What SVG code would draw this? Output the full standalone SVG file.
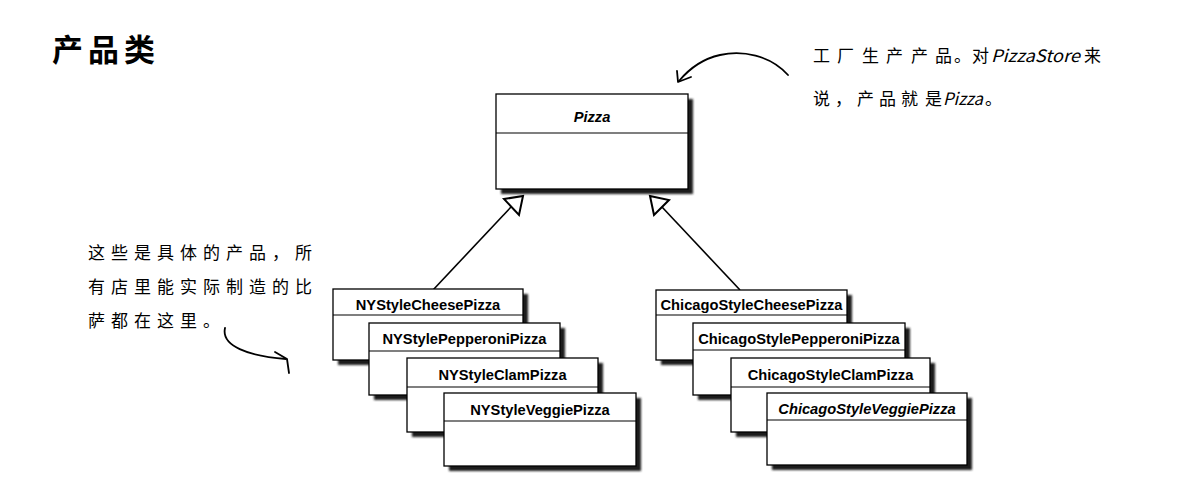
<svg xmlns="http://www.w3.org/2000/svg" width="1185" height="481" viewBox="0 0 1185 481">
<style>
.bg{fill:#fff}
.box{fill:#fff;stroke:#000;stroke-width:1.3}
.div{stroke:#000;stroke-width:1.2}
.shadow{fill:#1c1c1c;filter:url(#soft)}
.name{font-family:"Liberation Sans",Arial,sans-serif;font-weight:bold;font-size:14.7px;text-anchor:middle;fill:#000}
.ital{font-style:italic}
.hand{font-family:"Noto Sans CJK SC","Noto Sans",sans-serif;font-size:17px;fill:#000}
.title{font-family:"Noto Sans CJK SC",sans-serif;font-size:31px;font-weight:bold;fill:#000;letter-spacing:5px}
.conn{stroke:#000;stroke-width:1.6;fill:none}
.tri{fill:#fff;stroke:#000;stroke-width:2;stroke-linejoin:miter}
.curve{stroke:#000;stroke-width:1.8;fill:none;stroke-linecap:round;stroke-linejoin:round}
</style>
<defs>
<filter id="soft" x="-10%" y="-10%" width="120%" height="120%"><feGaussianBlur stdDeviation="1.1"/></filter>
</defs>
<rect class="bg" x="0" y="0" width="1185" height="481"/>

<text id="title" class="title" x="52" y="61">产品类</text>

<g id="note-top">
<text class="hand" y="62"><tspan x="813 837 862 886 911 935">工厂生产产品</tspan><tspan x="954">。</tspan><tspan x="972">对</tspan><tspan x="991" font-style="italic" textLength="89" lengthAdjust="spacingAndGlyphs">PizzaStore</tspan><tspan x="1084">来</tspan></text>
<text class="hand" y="105"><tspan x="813 835 857 879 901">说，产品就</tspan><tspan x="925">是</tspan><tspan x="943" font-style="italic" textLength="40" lengthAdjust="spacingAndGlyphs">Pizza</tspan><tspan x="985">。</tspan></text>
</g>

<g id="note-left">
<text class="hand" x="88" y="259" letter-spacing="6">这些是具体的产品，所</text>
<text class="hand" x="88" y="293" letter-spacing="6">有店里能实际制造的比</text>
<text class="hand" x="88" y="327" letter-spacing="6">萨都在这里。</text>
</g>

<g id="connectors">
<path class="curve" d="M788,75 C770,55 742,50 720,55 C702,59 689,69 679,81"/>
<path class="curve" d="M677,71 L678,82 L691,77"/>
<path class="curve" d="M225,328 C221,346 248,356 286,359"/>
<path class="curve" d="M275,352 L287,359 L289,373"/>
<line class="conn" x1="433" y1="290" x2="511" y2="207"/>
<line class="conn" x1="740" y1="290" x2="662" y2="207"/>
<polygon class="tri" points="523,196 519,215 504,199"/>
<polygon class="tri" points="650,196 669,200 654,215"/>
</g>

<g id="Pizza">
<rect class="shadow" x="501" y="99" width="192" height="95"/>
<rect class="box" x="496" y="94" width="192" height="95"/>
<line class="div" x1="496" y1="133" x2="688" y2="133"/>
<text class="name ital" x="592" y="121.5" font-size="15">Pizza</text>
</g>

<g id="NYStyleCheesePizza">
<rect class="shadow" x="338" y="294" width="190" height="71"/>
<rect class="box" x="333" y="289" width="190" height="71"/>
<line class="div" x1="333" y1="315" x2="523" y2="315"/>
<text class="name" x="428" y="309.5">NYStyleCheesePizza</text>
</g>
<g id="NYStylePepperoniPizza">
<rect class="shadow" x="374" y="328" width="191" height="72"/>
<rect class="box" x="369" y="323" width="191" height="72"/>
<line class="div" x1="369" y1="351" x2="560" y2="351"/>
<text class="name" x="464.5" y="344">NYStylePepperoniPizza</text>
</g>
<g id="NYStyleClamPizza">
<rect class="shadow" x="412" y="363" width="191" height="74"/>
<rect class="box" x="407" y="358" width="191" height="74"/>
<line class="div" x1="407" y1="387" x2="598" y2="387"/>
<text class="name" x="502.5" y="379.5">NYStyleClamPizza</text>
</g>
<g id="NYStyleVeggiePizza">
<rect class="shadow" x="449" y="398" width="192" height="73"/>
<rect class="box" x="444" y="393" width="192" height="73"/>
<line class="div" x1="444" y1="421" x2="636" y2="421"/>
<text class="name" x="540" y="414.5">NYStyleVeggiePizza</text>
</g>

<g id="ChicagoStyleCheesePizza">
<rect class="shadow" x="661" y="295" width="191" height="70"/>
<rect class="box" x="656" y="290" width="191" height="70"/>
<line class="div" x1="656" y1="315" x2="847" y2="315"/>
<text class="name" x="751.5" y="309.5">ChicagoStyleCheesePizza</text>
</g>
<g id="ChicagoStylePepperoniPizza">
<rect class="shadow" x="698" y="328" width="212" height="72"/>
<rect class="box" x="693" y="323" width="212" height="72"/>
<line class="div" x1="693" y1="350" x2="905" y2="350"/>
<text class="name" x="799" y="344">ChicagoStylePepperoniPizza</text>
</g>
<g id="ChicagoStyleClamPizza">
<rect class="shadow" x="736" y="363" width="199" height="74"/>
<rect class="box" x="731" y="358" width="199" height="74"/>
<line class="div" x1="731" y1="387" x2="930" y2="387"/>
<text class="name" x="830.5" y="379.5">ChicagoStyleClamPizza</text>
</g>
<g id="ChicagoStyleVeggiePizza">
<rect class="shadow" x="772" y="398" width="200" height="72"/>
<rect class="box" x="767" y="393" width="200" height="72"/>
<line class="div" x1="767" y1="420" x2="967" y2="420"/>
<text class="name ital" x="867" y="413.5">ChicagoStyleVeggiePizza</text>
</g>
</svg>
